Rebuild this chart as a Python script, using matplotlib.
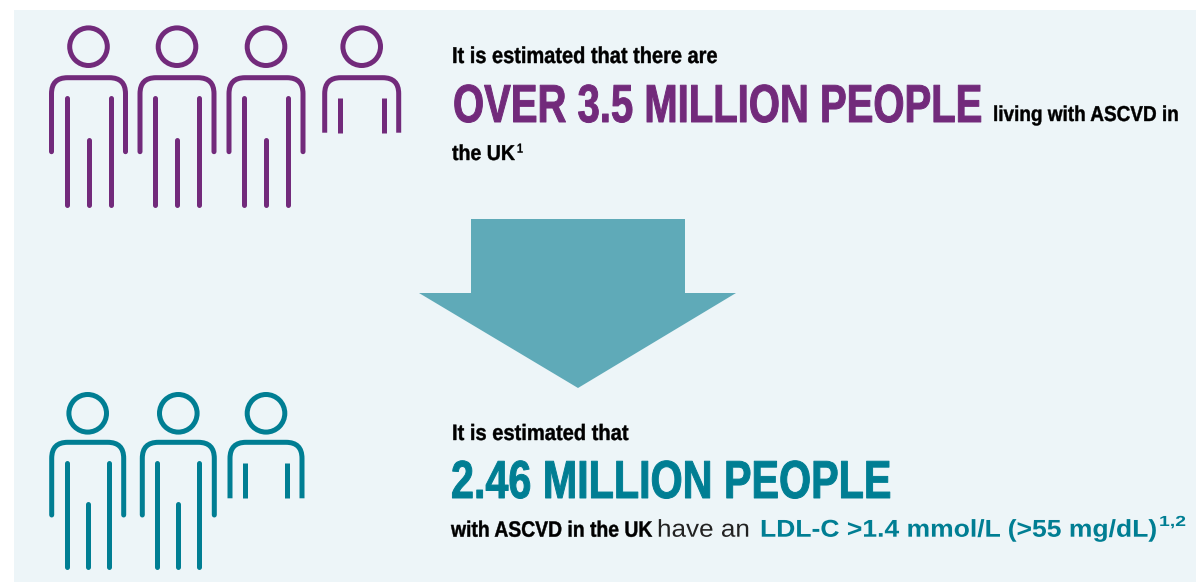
import matplotlib
matplotlib.use('Agg')
import matplotlib.pyplot as plt
from matplotlib.patches import Circle, PathPatch, Polygon, Rectangle
from matplotlib.path import Path
from matplotlib.patheffects import AbstractPathEffect
from matplotlib.text import Text
from matplotlib.transforms import Affine2D, Bbox

PURPLE = '#722A7B'
TEAL = '#007E93'
ARROW = '#5FAAB8'
PANEL = '#EDF5F8'

# head centres of the figures in each row, the last one is cut at the waist
purple_people = [88.5, 177, 266, 361.7]
teal_people = [87.7, 178.3, 266]

top_intro = 'It is estimated that there are'
top_big = 'OVER 3.5 MILLION PEOPLE'
top_tail = ['living with ASCVD in', 'the UK', '1']
bottom_intro = 'It is estimated that'
bottom_big = '2.46 MILLION PEOPLE'
bottom_tail = ['with ASCVD in the UK', 'have an', 'LDL-C >1.4 mmol/L (>55 mg/dL)', '1,2']


class Squeeze(AbstractPathEffect):
    # narrows glyphs around the text origin, extra stroke keeps them heavy
    def __init__(self, sx, x0, extra):
        super().__init__()
        self.sx, self.x0, self.extra = sx, x0, extra

    def draw_path(self, renderer, gc, tpath, affine, rgbFace=None):
        squeezed = affine + Affine2D().translate(-self.x0, 0).scale(self.sx, 1).translate(self.x0, 0)
        gc0 = renderer.new_gc()
        gc0.copy_properties(gc)
        gc0.set_linewidth(self.extra)
        renderer.draw_path(gc0, tpath, squeezed, rgbFace)
        gc0.restore()


class NarrowText(Text):
    sx = 1.0

    def get_window_extent(self, renderer=None, dpi=None):
        box = super().get_window_extent(renderer, dpi)
        return Bbox.from_extents(box.x0, box.y0, box.x0 + box.width * self.sx, box.y1)


def put_text(ax, text, x, x_end, y, size, color, weight='bold', extra=0.0):
    t = NarrowText(x, y, text, fontsize=size, color=color, family=['Liberation Sans', 'DejaVu Sans'],
                   weight=weight, va='baseline', ha='left')
    ax.add_artist(t)
    width = t.get_window_extent(ax.figure.canvas.get_renderer()).width
    t.sx = (x_end - x) / width
    t.set_path_effects([Squeeze(t.sx, ax.transData.transform((x, y))[0], extra)])


def draw_person(ax, cx, head_y, color, half_w, shoulder, arm_end, inner_top, inner_end, mid_top, cut=None):
    lw = 3.6
    ax.add_patch(Circle((cx, head_y), 18.8, fill=False, ec=color, lw=lw))
    r = 16
    left, right = cx - half_w, cx + half_w
    bottom = cut if cut else arm_end
    cap = 'butt' if cut else 'round'
    verts = [(left, head_y + bottom), (left, head_y + shoulder + r),
             (left, head_y + shoulder), (left + r, head_y + shoulder),
             (right - r, head_y + shoulder), (right, head_y + shoulder),
             (right, head_y + shoulder + r), (right, head_y + bottom)]
    codes = [Path.MOVETO, Path.LINETO, Path.CURVE3, Path.CURVE3,
             Path.LINETO, Path.CURVE3, Path.CURVE3, Path.LINETO]
    ax.add_patch(PathPatch(Path(verts, codes), fill=False, ec=color, lw=lw, capstyle=cap))
    inner = half_w - 15
    end = cut if cut else inner_end
    for x in (cx - inner, cx + inner):
        ax.plot([x, x], [head_y + inner_top, head_y + end], color=color, lw=lw, solid_capstyle=cap)
    if not cut:
        ax.plot([cx, cx], [head_y + mid_top, head_y + end], color=color, lw=lw, solid_capstyle='round')


fig = plt.figure(figsize=(11.96, 5.82), dpi=100)
ax = fig.add_axes([0, 0, 1, 1])
ax.set_xlim(0, 1196)
ax.set_ylim(582, 0)
ax.axis('off')

ax.add_patch(Rectangle((14, 10), 1182, 572, fc=PANEL, ec='none'))

# top row
for i, cx in enumerate(purple_people):
    draw_person(ax, cx, 46.7, PURPLE, 37, 31, 105, 51, 158, 93, cut=86 if i == len(purple_people) - 1 else None)

# bottom row
for i, cx in enumerate(teal_people):
    draw_person(ax, cx, 413.3, TEAL, 36, 29, 101.7, 50, 154, 91, cut=85 if i == len(teal_people) - 1 else None)

# down arrow between the rows
ax.add_patch(Polygon([(471, 219), (685, 219), (685, 293), (736, 293), (578, 388), (419, 293), (471, 293)],
                     closed=True, fc=ARROW, ec='none'))

put_text(ax, top_intro, 452, 717, 63, 16.5, 'black', extra=0.3)
put_text(ax, top_big, 453, 983, 122, 38.5, PURPLE, extra=0.7)
put_text(ax, top_tail[0], 993, 1179, 121, 15.5, 'black', extra=0.3)
put_text(ax, top_tail[1], 452, 515, 160, 15.5, 'black', extra=0.3)
put_text(ax, top_tail[2], 517, 523, 152.7, 9.5, 'black', extra=0.2)

put_text(ax, bottom_intro, 452, 628, 440, 16, 'black', extra=0.3)
put_text(ax, bottom_big, 451, 892, 498, 38.5, TEAL, extra=0.7)
put_text(ax, bottom_tail[0], 451, 652, 536.7, 16, 'black', extra=0.3)
put_text(ax, bottom_tail[1], 657, 749.5, 536.7, 17.5, '#222222', weight='normal')
put_text(ax, bottom_tail[2], 760, 1156, 536.7, 17.5, TEAL)
put_text(ax, bottom_tail[3], 1159, 1186, 526, 10.5, TEAL)

fig.savefig('out.png', dpi=100)
